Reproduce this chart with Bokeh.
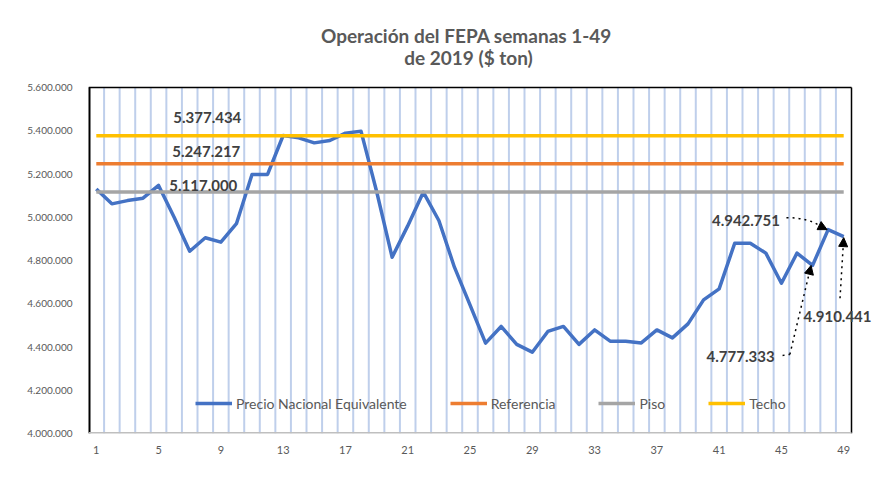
from bokeh.plotting import figure
from bokeh.models import (Range1d, FixedTicker, Legend, LegendItem, Label,
                          Arrow, NormalHead)
from bokeh.embed import file_html
from bokeh.resources import INLINE

# ---------------- data ----------------
weeks = list(range(1, 50))
precio = [5131000, 5062000, 5077000, 5088000, 5147000, 5000000, 4843000, 4905000,
          4885000, 4970000, 5198000, 5198000, 5378000, 5367000, 5344000, 5355000,
          5389000, 5398000, 5120000, 4815000, 4960000, 5116000, 4985000, 4769000,
          4595000, 4418000, 4495000, 4412000, 4376000, 4472000, 4495000, 4412000,
          4479000, 4427000, 4427000, 4419000, 4479000, 4442000, 4507000, 4618000,
          4669000, 4880000, 4880000, 4834000, 4695000, 4834000, 4777333, 4942751,
          4910441]
referencia_valor = 5247217
piso_valor = 5117000
techo_valor = 5377434

y_ticks = [4000000, 4200000, 4400000, 4600000, 4800000, 5000000, 5200000, 5400000, 5600000]
y_tick_labels = ["4.000.000", "4.200.000", "4.400.000", "4.600.000", "4.800.000",
                 "5.000.000", "5.200.000", "5.400.000", "5.600.000"]
x_ticks = [1, 5, 9, 13, 17, 21, 25, 29, 33, 37, 41, 45, 49]
x_tick_labels = ["1", "5", "9", "13", "17", "21", "25", "29", "33", "37", "41", "45", "49"]

title_lines = ["Operación del FEPA semanas 1-49", "de 2019 ($ ton)"]
series_names = ["Precio Nacional Equivalente", "Referencia", "Piso", "Techo"]
label_week = 8          # week where the level labels sit
annotated_weeks = [47, 48, 49]


def fmt(v):
    return f"{v:,}".replace(",", ".")


# ---------------- geometry / styling ----------------
W, H = 873, 477
PLOT_L, PLOT_R, PLOT_T, PLOT_B = 88, 851, 87, 433     # plot-area box in pixels
PX_PER_WEEK = (PLOT_R - PLOT_L) / len(weeks)
VAL_PER_PX = (y_ticks[-1] - y_ticks[0]) / (PLOT_B - PLOT_T)


def px_x(px):
    return 0.5 + (px - PLOT_L) / PX_PER_WEEK


def px_y(py):
    return y_ticks[0] + (PLOT_B - py) * VAL_PER_PX


FONT = "Lato"
TXT = "#595959"
DARK = "#404040"
BLUE, ORANGE, GRAY, YELLOW = "#4472C4", "#ED7D31", "#A5A5A5", "#FFC000"

x_lo, x_hi = 0.5, len(weeks) + 0.5
p = figure(width=W, height=H, output_backend="svg", toolbar_location=None,
           x_range=Range1d(x_lo, px_x(W)),
           y_range=Range1d(y_ticks[0], px_y(0)),
           min_border_left=PLOT_L, min_border_right=0, min_border_top=0,
           min_border_bottom=H - PLOT_B)
p.background_fill_color = "white"
p.border_fill_color = "white"
p.outline_line_color = None
p.xgrid.grid_line_color = None
p.ygrid.grid_line_color = None

# axes
p.xaxis.ticker = FixedTicker(ticks=x_ticks)
p.xaxis.major_label_overrides = dict(zip(x_ticks, x_tick_labels))
p.yaxis.ticker = FixedTicker(ticks=y_ticks)
p.yaxis.major_label_overrides = dict(zip(y_ticks, y_tick_labels))
for ax in (p.xaxis[0], p.yaxis[0]):
    ax.axis_line_color = None
    ax.major_tick_line_color = None
    ax.minor_tick_line_color = None
    ax.major_tick_out = 0
    ax.major_tick_in = 0
    ax.major_label_text_font = FONT
    ax.major_label_text_color = TXT
p.xaxis.major_label_text_font_size = "11px"
p.yaxis.major_label_text_font_size = "10px"
p.xaxis.major_label_standoff = 12
p.yaxis.major_label_standoff = 16

# vertical light-blue separators between categories
sep = [w + 0.5 for w in weeks[:-1]]
p.segment(x0=sep, x1=sep, y0=y_ticks[0], y1=y_ticks[-1],
          line_color="#b4c7e7", line_width=2, line_alpha=0.85)

# plot-area border: left/top/right black, bottom grey
p.line([x_lo, x_lo], [y_ticks[0], y_ticks[-1]], line_color="black", line_width=4)
p.line([x_lo, x_hi], [y_ticks[-1], y_ticks[-1]], line_color="black", line_width=1.5)
p.line([x_hi, x_hi], [y_ticks[0], y_ticks[-1]], line_color="black", line_width=1.5)
p.line([x_lo, x_hi], [y_ticks[0], y_ticks[0]], line_color="#bfbfbf", line_width=3)

# series
LW = 3.5
r_precio = p.line(weeks, precio, line_color=BLUE, line_width=LW, line_join="round")
r_ref = p.line([weeks[0], weeks[-1]], [referencia_valor, referencia_valor],
               line_color=ORANGE, line_width=LW)
r_piso = p.line([weeks[0], weeks[-1]], [piso_valor, piso_valor],
                line_color=GRAY, line_width=LW)
r_techo = p.line([weeks[0], weeks[-1]], [techo_valor, techo_valor],
                 line_color=YELLOW, line_width=LW)

# title
for txt, (cx, cy) in zip(title_lines, [(466, 35), (468, 57)]):
    p.add_layout(Label(x=px_x(cx), y=px_y(cy), text=txt, text_align="center",
                       text_baseline="middle", text_font=FONT, text_font_size="19px",
                       text_font_style="bold", text_color=TXT))

# level labels
bold15 = dict(text_font=FONT, text_font_size="15px", text_font_style="bold",
              text_color=DARK, text_baseline="middle")
for val, dx, dy in [(techo_valor, 2, 18), (referencia_valor, 1, 12.5), (piso_valor, -2, 6)]:
    p.add_layout(Label(x=label_week + dx / PX_PER_WEEK, y=val + dy * VAL_PER_PX,
                       text=fmt(val), text_align="center", **bold15))

# point annotations with dotted arrows
head = dict(size=9, fill_color="black", line_color="black")
dotted = dict(line_color="black", line_width=1.5, line_dash="dotted")
w47, w48, w49 = annotated_weeks
v47, v48, v49 = (precio[w - 1] for w in annotated_weeks)

# 4.942.751 (week 48)
p.add_layout(Label(x=w48 - 82.2 / PX_PER_WEEK, y=v48 + 8.8 * VAL_PER_PX, text=fmt(v48),
                   text_align="center", **bold15))
x0, y0 = w48 - 41.7 / PX_PER_WEEK, v48 + 12 * VAL_PER_PX
xm, ym = w48 - 8 / PX_PER_WEEK, v48 + 3.5 * VAL_PER_PX
p.quadratic(x0=x0, y0=y0, x1=xm, y1=ym, cx=w48 - 20 / PX_PER_WEEK,
            cy=v48 + 12 * VAL_PER_PX, **dotted)
p.add_layout(Arrow(x_start=xm, y_start=ym, x_end=w48 - 1 / PX_PER_WEEK, y_end=v48,
                   end=NormalHead(**head), **dotted))

# 4.910.441 (week 49) - right-aligned so it stays inside the picture
p.add_layout(Label(x=px_x(W - 2), y=v49 - 79.4 * VAL_PER_PX, text=fmt(v49),
                   text_align="right", **bold15))
p.add_layout(Arrow(x_start=w49 - 3.7 / PX_PER_WEEK, y_start=v49 - 61.6 * VAL_PER_PX,
                   x_end=w49, y_end=v49 - 1 * VAL_PER_PX,
                   end=NormalHead(**head), **dotted))

# 4.777.333 (week 47)
p.add_layout(Label(x=w47 - 72 / PX_PER_WEEK, y=v47 - 91 * VAL_PER_PX, text=fmt(v47),
                   text_align="center", **bold15))
p.line([w47 - 30 / PX_PER_WEEK, w47 - 22.7 / PX_PER_WEEK],
       [v47 - 90 * VAL_PER_PX, v47 - 89 * VAL_PER_PX], **dotted)
p.add_layout(Arrow(x_start=w47 - 22.7 / PX_PER_WEEK, y_start=v47 - 89 * VAL_PER_PX,
                   x_end=w47 - 1.5 / PX_PER_WEEK, y_end=v47,
                   end=NormalHead(**head), **dotted))

# legend
legend = Legend(items=[LegendItem(label=n, renderers=[r]) for n, r in
                       zip(series_names, [r_precio, r_ref, r_piso, r_techo])],
                orientation="horizontal", location=(195 - PLOT_L, PLOT_B - 403 - 10),
                spacing=43, glyph_width=37, glyph_height=20, label_height=20,
                label_standoff=4, padding=0, margin=0, border_line_color=None,
                background_fill_alpha=0, label_text_font=FONT,
                label_text_font_size="14px", label_text_color=TXT)
p.add_layout(legend, "center")

open("out.html", "w").write(file_html(p, INLINE))
